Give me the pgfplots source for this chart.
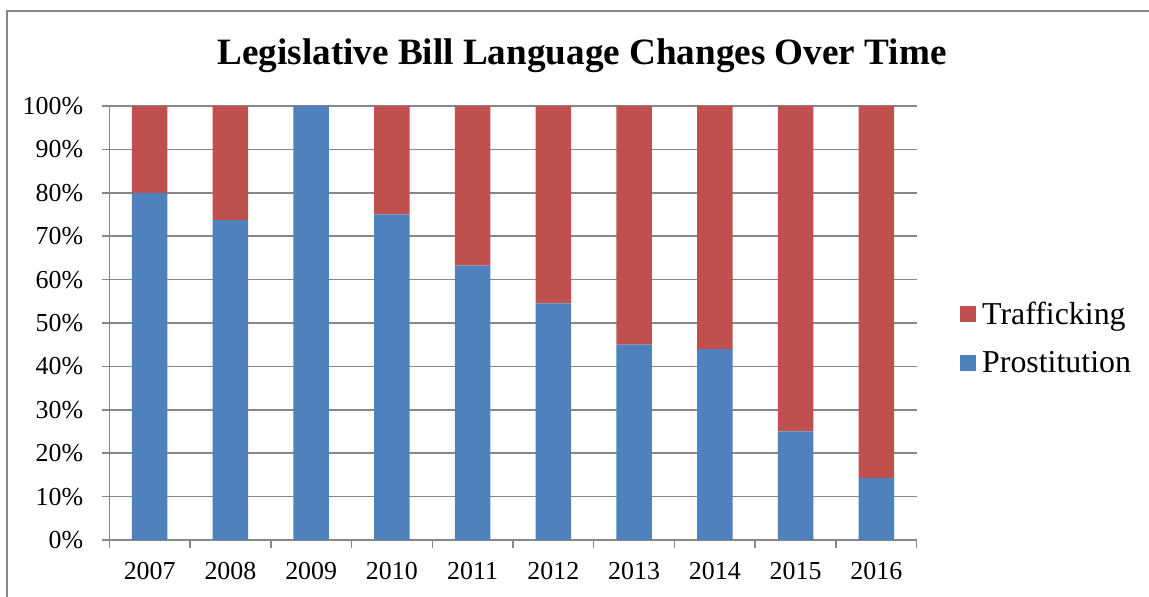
\documentclass[border=0pt]{standalone}
\usepackage{fontspec}
\setmainfont{Liberation Serif}
\usepackage{pgfplots}
\pgfplotsset{compat=1.18}
\definecolor{blu}{HTML}{4F81BD}
\definecolor{rd}{HTML}{C0504D}
\definecolor{gr}{HTML}{878787}
\begin{document}
\begin{tikzpicture}[x=1bp,y=1bp]
\useasboundingbox (0,0) rectangle (1149,597);
\clip (0,0) rectangle (1149,597);
\fill[white] (0,0) rectangle (1149,597);
\draw[gr, line width=1.6bp] (7,-10) -- (7,586) -- (1160,586);
\node[anchor=base, font=\fontsize{37.3}{44}\selectfont\bfseries] at (582,532) {Legislative Bill Language Changes Over Time};
\begin{axis}[
  at={(109.3bp,57bp)}, anchor=south west,
  scale only axis, width=807.4bp, height=434bp,
  ybar stacked, bar width=35.6bp,
  xmin=-0.5, xmax=9.5, ymin=0, ymax=100,
  axis x line*=bottom, axis y line*=left,
  axis line style={gr, line width=1.5bp, -},
  tick align=outside, major tick length=7.6bp,
  tick style={gr, line width=1.5bp},
  xtick={-0.5,0.5,1.5,2.5,3.5,4.5,5.5,6.5,7.5,8.5,9.5},
  xticklabels={},
  extra x ticks={0,1,2,3,4,5,6,7,8,9},
  extra x tick labels={2007,2008,2009,2010,2011,2012,2013,2014,2015,2016},
  extra x tick style={major tick length=0pt, grid=none,
    xticklabel style={yshift=-19bp}},
  ytick={0,10,...,100},
  yticklabel={\pgfmathprintnumber{\tick}\%},
  yticklabel style={xshift=-15bp},
  ymajorgrids, grid style={gr, line width=1.5bp},
  /pgf/number format/assume math mode=true,
  tick label style={font=\fontsize{26}{30}\selectfont},
  reverse legend,
  legend style={draw=none, fill=none, at={(1.0536,0.465)}, anchor=west,
    font=\fontsize{32}{37}\selectfont, row sep=22bp, inner sep=0pt},
  legend cell align=left,
  legend image code/.code={\fill[#1] (0bp,-8bp) rectangle (16bp,8bp); \path (20bp,0bp);},
]
\addplot[fill=blu, draw=none] coordinates {(0,80) (1,73.7) (2,100) (3,75) (4,63.2) (5,54.5) (6,45) (7,44) (8,25) (9,14.3)};
\addplot[fill=rd, draw=none] coordinates {(0,20) (1,26.3) (2,0) (3,25) (4,36.8) (5,45.5) (6,55) (7,56) (8,75) (9,85.7)};
\legend{Prostitution,Trafficking}
\end{axis}
\end{tikzpicture}
\end{document}
